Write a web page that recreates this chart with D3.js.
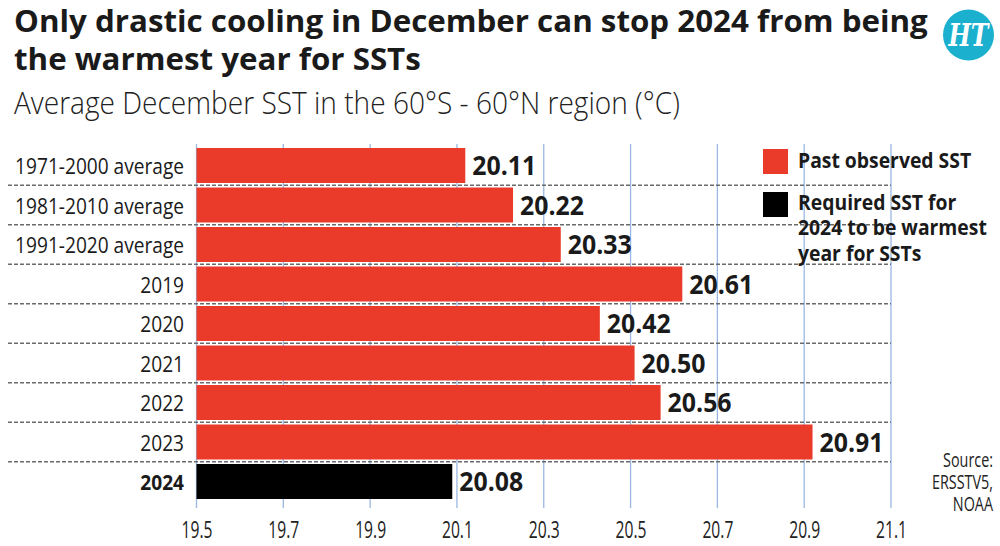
<!DOCTYPE html>
<html><head><meta charset="utf-8">
<script src="https://cdn.jsdelivr.net/npm/d3@7"></script>
<style>
body{margin:0;background:#fff;}
svg{display:block;}
text{font-family:"Open Sans","Noto Sans",sans-serif;}
</style></head><body>
<svg id="c" width="1000" height="546"></svg>
<script>
const categories = ["1971-2000 average","1981-2010 average","1991-2020 average","2019","2020","2021","2022","2023","2024"];
const values = [20.11,20.22,20.33,20.61,20.42,20.50,20.56,20.91,20.08];
const seriesType = ["past","past","past","past","past","past","past","past","required"];
const tickValues = [19.5,19.7,19.9,20.1,20.3,20.5,20.7,20.9,21.1];
const legendItems = [{key:"past",label:["Past observed SST"]},{key:"required",label:["Required SST for","2024 to be warmest","year for SSTs"]}];
const titleLines = ["Only drastic cooling in December can stop 2024 from being","the warmest year for SSTs"];
const subtitle = "Average December SST in the 60°S - 60°N region (°C)";
const sourceLines = ["Source:","ERSSTV5,","NOAA"];

const colors = {past:"#ea3b2a", required:"#000000"};
const svg = d3.select("#c");

// horizontally condense texts so that a reference text gets a target width
function condense(sel, factor){
  sel.each(function(){
    const t = d3.select(this);
    const X = +t.attr("x") || 0;
    t.attr("transform",`translate(${X},0) scale(${factor},1) translate(${-X},0)`);
  });
}
function factorFor(node, target){ return target / node.getComputedTextLength(); }

const x = d3.scaleLinear().domain([19.5,21.1]).range([196.5,891]);
const y = d3.scaleBand().domain(categories).range([145.75,501.25]).paddingInner(0.114).paddingOuter(0.057);

// title
const titles = svg.selectAll("text.title").data(titleLines).join("text")
  .attr("class","title").attr("x",14).attr("y",(d,i)=>32+i*38.5)
  .attr("font-size",30).attr("font-weight","bold").attr("fill","#1a1a1a")
  .text(d=>d);
condense(titles, factorFor(titles.nodes()[0], 914));
const sub = svg.append("text").attr("x",14).attr("y",114).attr("font-size",32).attr("fill","#222")
  .attr("font-weight",300).text(subtitle);
condense(sub, factorFor(sub.node(), 666));

// logo
const logo = svg.append("g").attr("transform","translate(968.5,35)");
logo.append("circle").attr("r",25.5).attr("fill","#1cb0cf");
const ht = logo.append("text").attr("x",0).attr("text-anchor","middle").attr("y",11).attr("font-size",32)
  .attr("font-weight","bold").attr("font-style","italic")
  .attr("fill","#fff").style("font-family","'DejaVu Serif','Liberation Serif',serif").text("HT");
condense(ht, factorFor(ht.node(), 40));

// vertical gridlines
svg.append("g").selectAll("line").data(tickValues).join("line")
  .attr("x1",d=>x(d)).attr("x2",d=>x(d)).attr("y1",144).attr("y2",508)
  .attr("stroke","#9ab8e2").attr("stroke-width",1.3);

// horizontal dashed separators
const seps = categories.slice(1).map(c=>y(c) - y.step()*y.paddingInner()/2);
svg.append("g").selectAll("line").data(seps).join("line")
  .attr("x1",8).attr("x2",891).attr("y1",d=>d).attr("y2",d=>d)
  .attr("stroke","#6a6a6a").attr("stroke-width",1.3).attr("stroke-dasharray","4,2");

// bars
svg.append("g").selectAll("rect").data(categories).join("rect")
  .attr("x",x(19.5)).attr("y",d=>y(d))
  .attr("width",(d,i)=>x(values[i])-x(19.5)+4).attr("height",y.bandwidth())
  .attr("fill",(d,i)=>colors[seriesType[i]]);

// value labels
const vals = svg.append("g").selectAll("text").data(categories).join("text")
  .attr("x",(d,i)=>x(values[i])+11).attr("y",d=>y(d)+y.bandwidth()/2+10)
  .attr("font-size",27).attr("font-weight","bold").attr("fill","#1a1a1a")
  .text((d,i)=>values[i].toFixed(2));
condense(vals, factorFor(vals.nodes()[6], 64));

// category labels
const cats = svg.append("g").selectAll("text").data(categories).join("text")
  .attr("x",184).attr("y",d=>y(d)+y.bandwidth()/2+9)
  .attr("text-anchor","end").attr("font-size",22)
  .attr("font-weight",(d,i)=>seriesType[i]==="required"?"bold":"normal").attr("fill","#1a1a1a")
  .text(d=>d);
condense(cats, factorFor(cats.nodes()[0], 169));

// x axis labels
const ax = svg.append("g").attr("transform","translate(0,538)")
  .call(d3.axisBottom(x).tickValues(tickValues).tickSize(0).tickPadding(0).tickFormat(d3.format(".1f")));
ax.select(".domain").remove();
const tks = ax.selectAll("text").attr("font-size",23).attr("fill","#222").attr("dy",0).attr("y",0)
  .style("font-family","'Open Sans','Noto Sans',sans-serif");
condense(tks, factorFor(tks.nodes()[4], 31));

// legend
const lg = svg.append("g");
const legTexts = [];
legendItems.forEach((item,i)=>{
  const top = i===0?149:192;
  lg.append("rect").attr("x",763).attr("y",top).attr("width",25).attr("height",25).attr("fill",colors[item.key]);
  item.label.forEach((l,j)=>{
    legTexts.push(lg.append("text").attr("x",798).attr("y",(i===0?168:210)+j*25.5).attr("font-size",21.5)
      .attr("font-weight","bold").attr("fill","#1a1a1a").text(l).node());
  });
});
condense(d3.selectAll(legTexts), factorFor(legTexts[2], 189));

// source
const src = svg.append("g").selectAll("text").data(sourceLines).join("text")
  .attr("x",993).attr("y",(d,i)=>467+i*22).attr("text-anchor","end")
  .attr("font-size",20).attr("fill","#222").text(d=>d);
condense(src, factorFor(src.nodes()[1], 61));
</script></body></html>
